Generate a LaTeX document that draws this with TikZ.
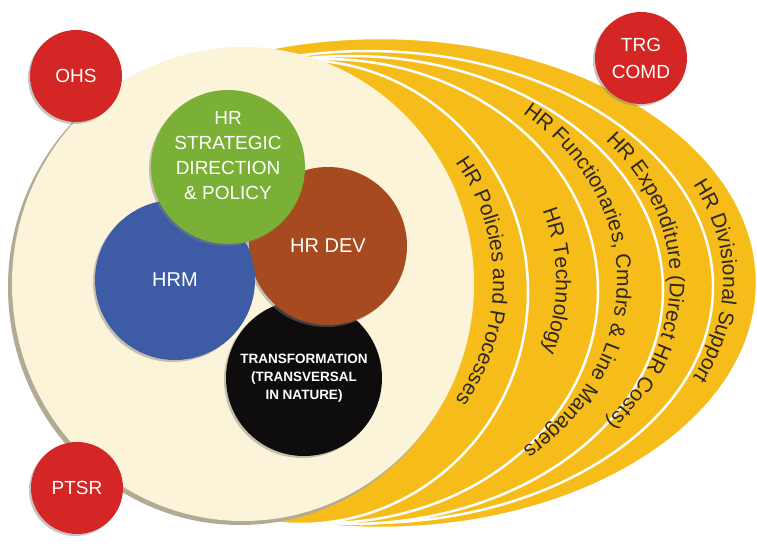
\documentclass[tikz,border=0pt]{standalone}
\usepackage{fontspec}
\setmainfont{Liberation Sans}
\usetikzlibrary{decorations.text,shadows}

\definecolor{ringyellow}{RGB}{246,189,26}
\definecolor{cream}{RGB}{251,244,216}
\definecolor{rimgray}{RGB}{178,170,148}
\definecolor{ballred}{RGB}{212,38,36}
\definecolor{stratgreen}{RGB}{122,176,54}
\definecolor{hrmblue}{RGB}{62,92,166}
\definecolor{devbrown}{RGB}{168,74,32}
\definecolor{transblack}{RGB}{14,12,12}
\definecolor{ringtext}{RGB}{45,40,35}

\begin{document}
\begin{tikzpicture}[x=1pt, y=-1pt,
    band/.style={fill=ringyellow, draw=white, line width=2.5pt},
    disc/.style={circle, inner sep=0pt, drop shadow={shadow xshift=-2pt, shadow yshift=-2pt, opacity=0.45}},
    redball/.style={disc, fill=ballred, minimum size=92pt, text=white, align=center, font=\fontsize{19}{27}\selectfont},
    hub/.style={disc, minimum size=#1, text=white, align=center, font=\fontsize{20}{25}\selectfont},
    hubtext/.style={text=white, align=center, font=\fontsize{19}{25}\selectfont},
    ringlabel/.style={decorate, decoration={text along path, text align=center, text={|\fontsize{21}{21}\selectfont\color{ringtext}|#1}}}
]
\fill[white] (0,0) rectangle (757,556);
\useasboundingbox (0,0) rectangle (757,556);

% yellow bands, outermost first
\begin{scope}
\clip (150,0) rectangle (757,556);
\draw[band] (380,283) ellipse[x radius=377, y radius=245];
\draw[band] (368,287) ellipse[x radius=345, y radius=236];
\draw[band] (350,290) ellipse[x radius=313, y radius=234];
\draw[band] (325,291) ellipse[x radius=273, y radius=232];
\draw[band] (300,292) ellipse[x radius=228, y radius=232];
\end{scope}

% cream disc
\fill[rimgray] (240,287) ellipse[x radius=232, y radius=238];
\fill[cream] (243,284) ellipse[x radius=231, y radius=237];

% texts along the bands
\coordinate (t1) at (300,281);
\coordinate (t2) at (325,281);
\coordinate (t3) at (350,281);
\coordinate (t4) at (368,281);
\coordinate (t5) at (380,281);
\path[ringlabel={HR Policies and Processes}] (t1) ++(-85:193 and 200) arc[start angle=-85, end angle=85, x radius=193, y radius=200];
\path[ringlabel={HR Technology}] (t2) ++(-85:231 and 210) arc[start angle=-85, end angle=85, x radius=231, y radius=210];
\path[ringlabel={HR Functionaries, Cmdrs {\&} Line Managers}] (t3) ++(-85:267 and 220) arc[start angle=-85, end angle=85, x radius=267, y radius=220];
\path[ringlabel={HR Expenditure (Direct HR Costs)}] (t4) ++(-85:302 and 228) arc[start angle=-85, end angle=85, x radius=302, y radius=228];
\path[ringlabel={HR Divisional Support}] (t5) ++(-85:343 and 236) arc[start angle=-85, end angle=85, x radius=343, y radius=236];

% inner circles
\node[hub=156pt, fill=transblack, font=\bfseries\fontsize{13.5}{18}\selectfont] (trans) at (304,378) {TRANSFORMATION\\(TRANSVERSAL\\IN NATURE)};
\node[hub=158pt, fill=devbrown] (dev) at (328,246) {HR DEV};
\node[hub=160pt, fill=hrmblue] (hrm) at (175,280) {HRM};
\node[hub=154pt, fill=stratgreen] (strat) at (228,167) {};
\node[hubtext] (strattext) at (228,156) {HR\\STRATEGIC\\DIRECTION\\\& POLICY};

% red corner circles
\node[redball] (ohs) at (76,76) {OHS};
\node[redball] (trg) at (641,58) {TRG\\COMD};
\node[redball] (ptsr) at (77,488) {PTSR};
\end{tikzpicture}
\end{document}
